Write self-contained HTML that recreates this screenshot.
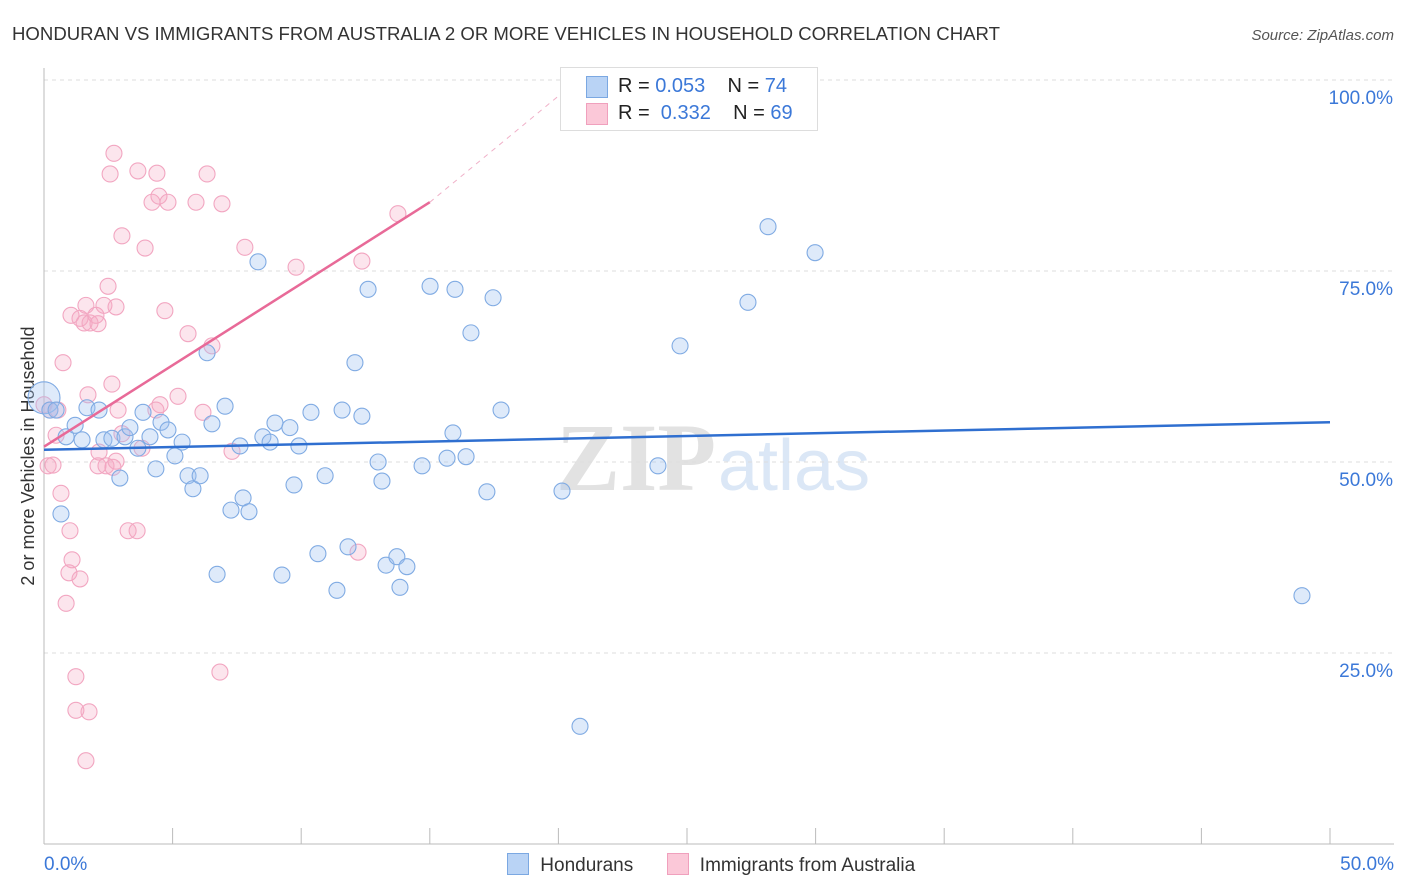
<!DOCTYPE html>
<html><head><meta charset="utf-8"><style>
body{margin:0;background:#fff;font-family:"Liberation Sans",sans-serif;}
#wrap{position:relative;width:1406px;height:892px;overflow:hidden;}
</style></head><body>
<div id="wrap">
<svg id="svg" width="1406" height="892" xmlns="http://www.w3.org/2000/svg">
<text x="12" y="40" font-size="18" fill="#333" textLength="988" lengthAdjust="spacingAndGlyphs">HONDURAN VS IMMIGRANTS FROM AUSTRALIA 2 OR MORE VEHICLES IN HOUSEHOLD CORRELATION CHART</text>
<text x="1394" y="40" font-size="15" fill="#555" font-style="italic" text-anchor="end">Source: ZipAtlas.com</text>
<text x="34" y="456" font-size="18" fill="#333" text-anchor="middle" transform="rotate(-90 34 456)">2 or more Vehicles in Household</text>
<text x="716" y="490" font-size="96" fill="#e2e2e2" text-anchor="end" font-family="Liberation Serif,serif" font-weight="bold">ZIP</text>
<text x="718" y="490" font-size="72" fill="#dbe7f6">atlas</text>
<g id="grid"></g><g id="marks"></g>
</svg>
</div>
<script>
const yTicks=[100,75,50,25];
const yTickLabels=["100.0%","75.0%","50.0%","25.0%"];
const xTickLabels=["0.0%","50.0%"];
const blueX=[0,0.23,0.47,0.66,0.86,1.21,1.48,1.67,2.14,2.33,2.64,2.95,3.15,3.34,3.65,3.85,4.12,4.35,4.55,4.82,5.09,5.37,5.6,5.79,6.07,6.34,6.53,6.73,7.04,7.27,7.62,7.74,7.97,8.32,8.51,8.79,8.98,9.25,9.56,9.72,9.91,10.38,10.65,10.93,11.39,11.59,11.82,12.09,12.36,12.6,12.99,13.14,13.3,13.72,13.84,14.11,14.7,15.01,15.67,15.9,15.98,16.41,16.6,17.22,17.46,17.77,20.14,20.84,23.87,24.73,27.37,28.15,29.98,48.91];
const blueY=[58.4,56.8,56.8,43.2,53.3,54.8,52.9,57.1,56.8,52.9,53.1,47.9,53.3,54.5,51.8,56.5,53.3,49.1,55.2,54.2,50.8,52.6,48.2,46.5,48.2,64.3,55.0,35.3,57.3,43.7,52.1,45.3,43.5,76.2,53.3,52.6,55.1,35.2,54.5,47.0,52.1,56.5,38.0,48.2,33.2,56.8,38.9,63.0,56.0,72.6,50.0,47.5,36.5,37.6,33.6,36.3,49.5,73.0,50.5,53.8,72.6,50.7,66.9,46.1,71.5,56.8,46.2,15.4,49.5,65.2,70.9,80.8,77.4,32.5];
const pinkX=[0,0.16,0.23,0.35,0.47,0.54,0.66,0.74,1.01,1.05,1.09,0.97,0.86,1.24,1.24,1.4,1.4,1.56,1.63,1.75,1.71,1.63,1.79,2.02,2.1,2.1,2.14,2.33,2.41,2.49,2.57,2.64,2.72,2.68,2.8,2.8,2.88,3.03,3.03,3.27,3.62,3.65,3.81,3.93,4.2,4.35,4.39,4.47,4.51,4.7,4.82,5.21,5.6,5.91,6.18,6.34,6.53,6.84,6.92,7.31,7.81,9.8,12.21,12.36,13.76];
const pinkY=[57.5,49.5,56.8,49.6,53.5,56.8,45.9,63.0,41.0,69.2,37.2,35.5,31.5,21.9,17.5,34.7,68.8,68.2,70.5,17.3,58.8,10.9,68.2,69.2,68.1,49.5,51.3,70.5,49.5,73.0,87.7,60.2,90.4,49.3,70.3,50.1,56.8,79.6,53.7,41.0,41.0,88.1,51.8,78.0,84.0,56.8,87.8,84.8,57.5,69.8,84.0,58.6,66.8,84.0,56.5,87.7,65.2,22.5,83.8,51.4,78.1,75.5,38.2,76.3,82.5];
const blueTrend=[[0,51.6],[50,55.2]];
const pinkTrend=[[0,52],[15,84]];
const pinkTrendExt=[[15,84],[20,97.9]];
const sx=v=>44+v*25.72, sy=v=>844-v*7.64;
const NS="http://www.w3.org/2000/svg";
const grid=document.getElementById('grid'), marks=document.getElementById('marks'), svg=document.getElementById('svg');
function mk(tag,attrs,parent){const e=document.createElementNS(NS,tag);for(const k in attrs)e.setAttribute(k,attrs[k]);parent.appendChild(e);return e;}
yTicks.forEach((t,i)=>{
 const l=mk('line',{x1:44,x2:1394,y1:sy(t),y2:sy(t),stroke:'#ddd','stroke-dasharray':'4,4'},grid);
 
 
 const tx=mk('text',{x:1393,y:sy(t)+24,'font-size':19,fill:'#3b78d8','text-anchor':'end'},grid);
 tx.textContent=yTickLabels[i];
 
 
});
const ax=mk('line',{x1:44,x2:1394,y1:844,y2:844,stroke:'#bbb'},grid);


const ay=mk('line',{x1:44,x2:44,y1:68,y2:844,stroke:'#bbb'},grid);


for(let i=0;i<=10;i++){const t=mk('line',{x1:sx(i*5),x2:sx(i*5),y1:828,y2:844,stroke:'#bbb'},grid);
 
 }
[[0,'start',44],[50,'end',1394]].forEach((d,i)=>{const t=mk('text',{x:d[2],y:870,'font-size':19,fill:'#3b78d8','text-anchor':d[1]},grid);t.textContent=xTickLabels[i];
 
 });
function dots(X,Y,fill,stroke,name){X.forEach((x,i)=>{const r=(i===0&&name==='honduran-point')?16:8;
 const c=mk('circle',{cx:sx(x),cy:sy(Y[i]),r:r,fill:fill,stroke:stroke,'stroke-width':1.1},marks);
 
 });}
dots(pinkX,pinkY,'rgba(246,170,196,0.3)','#f2a6c1','australia-point');
dots(blueX,blueY,'rgba(160,195,240,0.35)','#80abe3','honduran-point');
function line(p,stroke,dash,name){const l=mk('line',{x1:sx(p[0][0]),y1:sy(p[0][1]),x2:sx(p[1][0]),y2:sy(p[1][1]),stroke:stroke,'stroke-width':dash?1:2.5},marks);
 if(dash)l.setAttribute('stroke-dasharray','5,5');
 
 }
line(blueTrend,'#2f6fd0',false,'honduran-trend-line');
line(pinkTrend,'#e86a98',false,'australia-trend-line');
line(pinkTrendExt,'#f0b0c8',true,'australia-trend-extension');
</script>
<div style="position:absolute;left:560px;top:67px;width:256px;height:62px;border:1px solid #ddd;background:#fff;font-size:20px;color:#222">
 <div style="position:absolute;left:25px;top:8px;width:20px;height:20px;background:#b9d3f5;border:1px solid #7ba8e2"></div>
 <div style="position:absolute;left:57px;top:7px">R = <span style="color:#3b78d8">0.053</span>&nbsp;&nbsp;&nbsp; N = <span style="color:#3b78d8">74</span></div>
 <div style="position:absolute;left:25px;top:35px;width:20px;height:20px;background:#fbc8d8;border:1px solid #f0a0bd"></div>
 <div style="position:absolute;left:57px;top:34px">R = &nbsp;<span style="color:#3b78d8">0.332</span>&nbsp;&nbsp;&nbsp; N = <span style="color:#3b78d8">69</span></div>
</div>
<div style="position:absolute;left:507px;top:853px;font-size:19px;color:#333;white-space:nowrap">
 <span style="display:inline-block;width:20px;height:20px;background:#b9d3f5;border:1px solid #7ba8e2;vertical-align:-4px"></span>
 <span style="margin-left:6px">Hondurans</span>
 <span style="display:inline-block;width:20px;height:20px;background:#fbc8d8;border:1px solid #f0a0bd;vertical-align:-4px;margin-left:28px"></span>
 <span style="margin-left:6px">Immigrants from Australia</span>
</div>
</body></html>
